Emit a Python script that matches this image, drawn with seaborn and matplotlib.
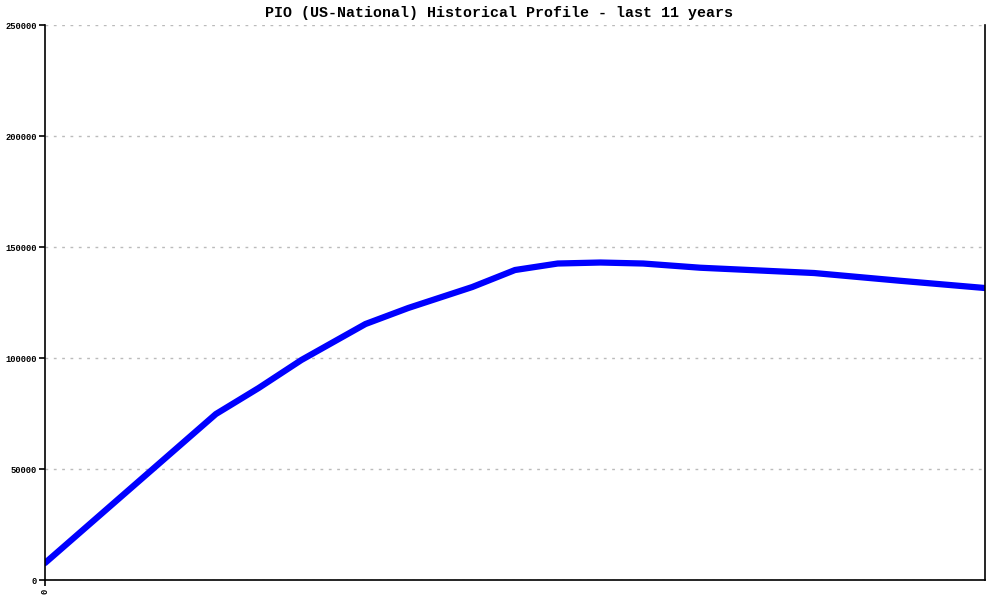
import pandas as pd
import seaborn as sns
import matplotlib.pyplot as plt

# monthly index over the last 11 years
months = [0, 24, 30, 36, 45, 51, 57, 60, 66, 72, 78, 84, 92, 108, 120, 132]
values = [7658, 74775, 86486, 99099, 115315, 122522, 128829, 131982, 139640,
          142568, 143018, 142568, 140676, 138288, 134820, 131532]
y_ticks = [0, 50000, 100000, 150000, 200000, 250000]
title = "PIO (US-National) Historical Profile - last 11 years"

df = pd.DataFrame({"month": months, "value": values})

sns.set_style("white")
plt.rcParams["font.family"] = ["Liberation Mono", "DejaVu Sans Mono"]

fig = plt.figure(figsize=(10, 6), dpi=100)
ax = fig.add_axes([0.045, 0.0333, 0.94, 0.925])

sns.lineplot(data=df, x="month", y="value", color="#0000ff", linewidth=4.5, ax=ax)

ax.set_xlim(0, 132)
ax.set_ylim(0, 250000)
ax.set_yticks(y_ticks)
ax.set_yticklabels([str(v) for v in y_ticks], fontsize=6.3, fontweight="bold", color="black")
ax.set_xticks([0])
ax.set_xticklabels(["0"], fontsize=6.3, fontweight="bold", rotation=90, color="black")
ax.set_xlabel("")
ax.set_ylabel("")

ax.yaxis.grid(True, color="#bbbbbb", linestyle=(0, (2, 4)), linewidth=1)
ax.xaxis.grid(False)
ax.tick_params(axis="both", direction="out", length=4, width=1.2, color="black", pad=2,
               left=True, bottom=True)

for side in ["left", "bottom", "right"]:
    ax.spines[side].set_visible(True)
    ax.spines[side].set_color("black")
    ax.spines[side].set_linewidth(1.2)
ax.spines["top"].set_visible(False)

fig.text(0.499, 0.978, title, ha="center", va="center", fontsize=10.8,
         fontweight="bold", color="black")

plt.savefig("out.png", dpi=100)
plt.close()
